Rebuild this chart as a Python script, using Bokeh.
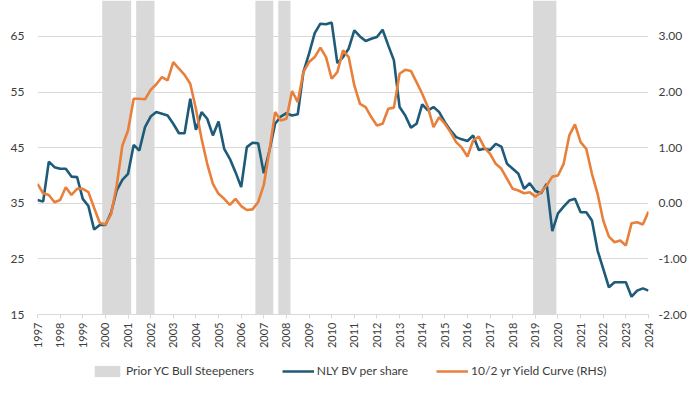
import math
from bokeh.plotting import figure
from bokeh.layouts import column
from bokeh.models import (Range1d, LinearAxis, FixedTicker, NumeralTickFormatter,
                          Legend, LegendItem, ColumnDataSource)
from bokeh.embed import file_html
from bokeh.resources import INLINE

# ---------------- data ----------------
years = [1997 + 0.25 * i for i in range(109)]  # quarterly, 1997Q1 .. 2024Q1

nly_bv = [
    35.6, 35.3, 42.5, 41.5,
    41.2, 41.2, 39.8, 39.7,
    35.8, 34.5, 30.3, 31.1,
    31.1, 33.3, 37.3, 39.2,
    40.3, 45.5, 44.5, 48.7,
    50.6, 51.4, 51.1, 50.8,
    49.3, 47.6, 47.6, 53.8,
    48.2, 51.4, 50.2, 47.2,
    49.7, 44.8, 43.0, 40.6,
    37.9, 45.1, 45.9, 45.8,
    40.4, 44.5, 49.3, 50.6,
    51.2, 50.8, 51.0, 58.6,
    61.9, 65.6, 67.3, 67.2,
    67.5, 60.2, 61.3, 62.8,
    66.1, 65.0, 64.2, 64.6,
    64.9, 66.2, 63.4, 60.7,
    52.3, 50.8, 48.6, 49.3,
    52.8, 51.7, 52.3, 51.4,
    49.6, 48.1, 46.9, 46.5,
    46.2, 47.2, 44.6, 44.8,
    44.6, 45.7, 45.2, 42.1,
    41.2, 40.3, 37.6, 38.6,
    37.2, 36.8, 38.5, 30.0,
    33.2, 34.4, 35.5, 35.8,
    33.4, 33.4, 31.9, 26.5,
    23.2, 19.9, 20.8, 20.8,
    20.8, 18.2, 19.3, 19.7,
    19.3,
]

yield_curve = [
    0.35, 0.18, 0.15, 0.02,
    0.06, 0.29, 0.15, 0.26,
    0.26, 0.20, -0.08, -0.35,
    -0.38, -0.20, 0.32, 1.04,
    1.31, 1.88, 1.88, 1.87,
    2.04, 2.14, 2.27, 2.21,
    2.54, 2.42, 2.31, 2.15,
    1.70, 1.16, 0.71, 0.35,
    0.17, 0.08, -0.03, 0.08,
    -0.05, -0.12, -0.11, 0.02,
    0.33, 0.95, 1.64, 1.49,
    1.52, 2.02, 1.82, 2.36,
    2.54, 2.63, 2.80, 2.63,
    2.24, 2.36, 2.75, 2.63,
    2.12, 1.79, 1.73, 1.55,
    1.40, 1.43, 1.70, 1.72,
    2.33, 2.40, 2.38, 2.18,
    1.97, 1.73, 1.37, 1.55,
    1.43, 1.28, 1.10, 1.00,
    0.84, 1.13, 1.20, 1.00,
    0.89, 0.71, 0.62, 0.44,
    0.26, 0.23, 0.18, 0.20,
    0.12, 0.20, 0.32, 0.48,
    0.50, 0.71, 1.22, 1.42,
    1.10, 0.98, 0.53, 0.17,
    -0.31, -0.60, -0.70, -0.67,
    -0.76, -0.36, -0.34, -0.38,
    -0.15,
]

steepener_start = [1999.86, 2001.36, 2006.63, 2007.64, 2018.90]
steepener_end = [2001.14, 2002.17, 2007.42, 2008.18, 2019.93]

year_ticks = list(range(1997, 2025))
left_ticks = [15, 25, 35, 45, 55, 65]
right_ticks = [-2, -1, 0, 1, 2, 3]

legend_labels = ["Prior YC Bull Steepeners", "NLY BV per share",
                 "10/2 yr Yield Curve (RHS)"]

# ---------------- styling ----------------
FONT = "Lato"
TXT = "#3c3c3c"
GRID = "#d9d9d9"
TEAL = "#1d5b79"
ORANGE = "#e8803c"
BAND = "#d9d9d9"

y_lo, y_hi = 15, 71.47
r_lo, r_hi = -2.0, 3.647

W = 700
p = figure(width=W, height=354, output_backend="svg", toolbar_location=None,
           x_range=Range1d(1997, 2024), y_range=Range1d(y_lo, y_hi),
           min_border_left=37, min_border_right=52, min_border_top=0,
           min_border_bottom=40)
p.outline_line_color = None
p.background_fill_color = "white"
p.border_fill_color = "white"
p.extra_y_ranges = {"rhs": Range1d(r_lo, r_hi)}

# bands
band_src = ColumnDataSource(dict(left=steepener_start, right=steepener_end,
                                 bottom=[y_lo] * len(steepener_start),
                                 top=[y_hi] * len(steepener_start)))
p.quad(left="left", right="right", bottom="bottom", top="top",
       source=band_src, fill_color=BAND, line_color=None)

p.line(years, nly_bv, line_color=TEAL, line_width=2.6)
p.line(years, yield_curve, line_color=ORANGE, line_width=2.6, y_range_name="rhs")

# grids
p.xgrid.visible = False
p.ygrid.ticker = FixedTicker(ticks=left_ticks)
p.ygrid.grid_line_color = GRID
p.ygrid.grid_line_width = 1

# left axis
ly = p.yaxis[0]
ly.ticker = FixedTicker(ticks=left_ticks)
ly.axis_line_color = None
ly.major_tick_line_color = None
ly.minor_tick_line_color = None
ly.major_tick_out = 0
ly.major_tick_in = 0
ly.minor_tick_out = 0
ly.major_label_standoff = 13
ly.major_label_text_font = FONT
ly.major_label_text_font_size = "12px"
ly.major_label_text_color = TXT

# right axis
ry = LinearAxis(y_range_name="rhs", ticker=FixedTicker(ticks=right_ticks),
                formatter=NumeralTickFormatter(format="0.00"))
ry.axis_line_color = None
ry.major_tick_line_color = None
ry.minor_tick_line_color = None
ry.major_tick_out = 0
ry.major_tick_in = 0
ry.minor_tick_out = 0
ry.major_label_standoff = 10
ry.major_label_text_font = FONT
ry.major_label_text_font_size = "12px"
ry.major_label_text_color = TXT
p.add_layout(ry, "right")

# x axis
xa = p.xaxis[0]
xa.ticker = FixedTicker(ticks=year_ticks)
xa.major_label_orientation = math.pi / 2
xa.axis_line_color = GRID
xa.major_tick_line_color = GRID
xa.major_tick_out = 4
xa.major_tick_in = 0
xa.minor_tick_line_color = None
xa.minor_tick_out = 0
xa.major_label_standoff = 4
xa.major_label_text_font = FONT
xa.major_label_text_font_size = "11px"
xa.major_label_text_color = TXT

# ---------------- legend strip ----------------
lg = figure(width=W, height=26, output_backend="svg", toolbar_location=None,
            x_axis_type=None, y_axis_type=None, min_border=0,
            x_range=Range1d(0, 1), y_range=Range1d(0, 1))
lg.outline_line_color = None
lg.grid.visible = False
# legend-key renderers kept outside the visible range of the strip
off = [-3.0, -2.0]
r_band = lg.quad(left=[off[0]], right=[off[1]], bottom=[off[0]], top=[off[1]],
                 fill_color=BAND, line_color=None)
r_teal = lg.line(x=off, y=off, line_color=TEAL, line_width=2.6)
r_orange = lg.line(x=off, y=off, line_color=ORANGE, line_width=2.6)

legend = Legend(items=[
    LegendItem(label=legend_labels[0], renderers=[r_band]),
    LegendItem(label=legend_labels[1], renderers=[r_teal]),
    LegendItem(label=legend_labels[2], renderers=[r_orange]),
], orientation="horizontal", location=(54, 2))
legend.border_line_color = None
legend.background_fill_alpha = 0
legend.label_text_font = FONT
legend.label_text_font_size = "12px"
legend.label_text_color = TXT
legend.glyph_width = 32
legend.glyph_height = 14
legend.label_standoff = 3
legend.spacing = 28
legend.padding = 4
legend.margin = 0
lg.add_layout(legend, "center")

layout = column(p, lg, spacing=0)
open("out.html", "w").write(file_html(layout, INLINE))
